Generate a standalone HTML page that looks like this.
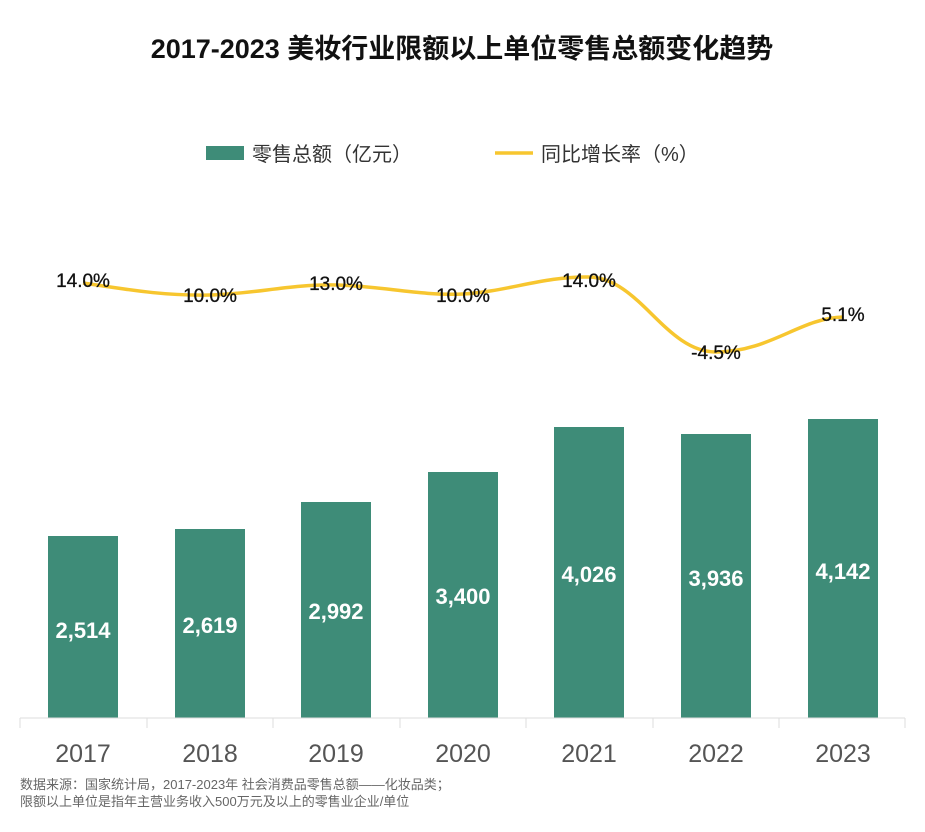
<!DOCTYPE html>
<html><head><meta charset="utf-8"><style>
body{margin:0;background:#fff;width:925px;height:827px;overflow:hidden}
svg text{font-family:"Liberation Sans","Noto Sans CJK SC",sans-serif}
</style></head><body>
<svg width="925" height="827" xmlns="http://www.w3.org/2000/svg">
<text x="462" y="58" text-anchor="middle" font-size="27" font-weight="bold" fill="#111">2017-2023 美妆行业限额以上单位零售总额变化趋势</text>
<rect x="206" y="146" width="38" height="14" fill="#3e8c78"/>
<text x="252" y="161" font-size="20" fill="#333">零售总额（亿元）</text>
<line x1="495" y1="153" x2="533" y2="153" stroke="#f7c62f" stroke-width="3.5"/>
<text x="541" y="161" font-size="20" fill="#333">同比增长率（%）</text>
<g fill="#3e8c78">
<rect x="48" y="536" width="70" height="182"/>
<rect x="175" y="529" width="70" height="189"/>
<rect x="301" y="502" width="70" height="216"/>
<rect x="428" y="472" width="70" height="246"/>
<rect x="554" y="427" width="70" height="291"/>
<rect x="681" y="434" width="70" height="284"/>
<rect x="808" y="419" width="70" height="299"/>
</g>
<g fill="#fff" font-size="22" font-weight="bold" text-anchor="middle">
<text x="83" y="638">2,514</text><text x="210" y="633">2,619</text><text x="336" y="619">2,992</text>
<text x="463" y="604">3,400</text><text x="589" y="582">4,026</text><text x="716" y="586">3,936</text><text x="843" y="579">4,142</text>
</g>
<line x1="20" y1="718" x2="905" y2="718" stroke="#ddd" stroke-width="1"/>
<g stroke="#ddd"><line x1="20" y1="718" x2="20" y2="728"/><line x1="147" y1="718" x2="147" y2="728"/><line x1="273" y1="718" x2="273" y2="728"/><line x1="400" y1="718" x2="400" y2="728"/><line x1="526" y1="718" x2="526" y2="728"/><line x1="653" y1="718" x2="653" y2="728"/><line x1="779" y1="718" x2="779" y2="728"/><line x1="905" y1="718" x2="905" y2="728"/></g>
<g fill="#555" font-size="25" text-anchor="middle">
<text x="83" y="762">2017</text><text x="210" y="762">2018</text><text x="336" y="762">2019</text><text x="463" y="762">2020</text><text x="589" y="762">2021</text><text x="716" y="762">2022</text><text x="843" y="762">2023</text>
</g>
<path d="M83,283 C130,290 165,296 210,295 C255,294 290,284 336,285 C382,286 420,296 463,294 C505,292 545,276 589,277 C640,278 665,352 716,352 C770,352 800,318 843,317" fill="none" stroke="#f7c62f" stroke-width="3.5"/>
<g fill="#111" font-size="19" text-anchor="middle" stroke="#111" stroke-width="0.3">
<text x="83" y="287">14.0%</text><text x="210" y="302">10.0%</text><text x="336" y="290">13.0%</text><text x="463" y="302">10.0%</text><text x="589" y="287">14.0%</text><text x="716" y="359">-4.5%</text><text x="843" y="321">5.1%</text>
</g>
<text x="20" y="789" font-size="13" fill="#666">数据来源：国家统计局，2017-2023年 社会消费品零售总额——化妆品类；</text>
<text x="20" y="806" font-size="13" fill="#666">限额以上单位是指年主营业务收入500万元及以上的零售业企业/单位</text>
</svg>
</body></html>
